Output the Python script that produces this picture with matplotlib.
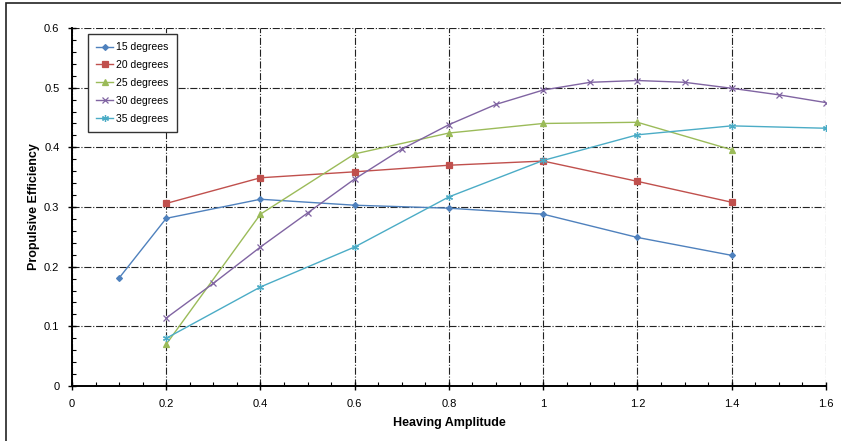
import matplotlib
matplotlib.use('Agg')
import matplotlib.pyplot as plt
from matplotlib.patches import Rectangle
from matplotlib.ticker import MultipleLocator

plt.rcParams['font.family'] = ['Liberation Sans', 'DejaVu Sans']

# propulsive efficiency vs heaving amplitude, one series per pitch angle
amp_15 = [0.1, 0.2, 0.4, 0.6, 0.8, 1.0, 1.2, 1.4]
eff_15 = [0.181, 0.281, 0.313, 0.303, 0.298, 0.288, 0.249, 0.219]

amp_20 = [0.2, 0.4, 0.6, 0.8, 1.0, 1.2, 1.4]
eff_20 = [0.306, 0.349, 0.359, 0.370, 0.377, 0.343, 0.308]

amp_25 = [0.2, 0.4, 0.6, 0.8, 1.0, 1.2, 1.4]
eff_25 = [0.070, 0.288, 0.389, 0.424, 0.440, 0.442, 0.396]

amp_30 = [0.2, 0.3, 0.4, 0.5, 0.6, 0.7, 0.8, 0.9, 1.0, 1.1, 1.2, 1.3, 1.4, 1.5, 1.6]
eff_30 = [0.114, 0.172, 0.233, 0.290, 0.347, 0.397, 0.438, 0.472, 0.496,
          0.509, 0.512, 0.509, 0.499, 0.488, 0.475]

amp_35 = [0.2, 0.4, 0.6, 0.8, 1.0, 1.2, 1.4, 1.6]
eff_35 = [0.080, 0.166, 0.233, 0.317, 0.378, 0.421, 0.436, 0.432]

labels = ['15 degrees', '20 degrees', '25 degrees', '30 degrees', '35 degrees']
colors = ['#4F81BD', '#C0504D', '#9BBB59', '#8064A2', '#4BACC6']
markers = ['D', 's', '^', 'x', (6, 2, 0)]
msizes = [3, 4.5, 4.5, 4, 5]

fig = plt.figure(figsize=(8.41, 4.41), dpi=100)
# outer chart frame
fig.patches.append(Rectangle((0.007, -0.1), 1.1, 1.093, transform=fig.transFigure,
                             fill=False, edgecolor='#222222', linewidth=1.2))
ax = fig.add_axes([0.0856, 0.1247, 0.8964, 0.8118])

series = [(amp_15, eff_15), (amp_20, eff_20), (amp_25, eff_25),
          (amp_30, eff_30), (amp_35, eff_35)]
for (xs, ys), lab, c, m, ms in zip(series, labels, colors, markers, msizes):
    ax.plot(xs, ys, color=c, marker=m, markersize=ms, linewidth=1.0,
            markeredgewidth=0.9, label=lab, zorder=3)

ax.set_xlim(0, 1.6)
ax.set_ylim(0, 0.6)
ax.xaxis.set_minor_locator(MultipleLocator(0.05))
ax.yaxis.set_minor_locator(MultipleLocator(0.02))
ax.set_xticks([0, 0.2, 0.4, 0.6, 0.8, 1.0, 1.2, 1.4, 1.6])
ax.set_yticks([0, 0.1, 0.2, 0.3, 0.4, 0.5, 0.6])
ax.set_xticklabels(['0', '0.2', '0.4', '0.6', '0.8', '1', '1.2', '1.4', '1.6'])
ax.set_yticklabels(['0', '0.1', '0.2', '0.3', '0.4', '0.5', '0.6'])

ax.tick_params(which='major', direction='inout', length=6, width=1, labelsize=8, pad=6)
ax.tick_params(which='minor', direction='in', length=3, width=0.8)
ax.grid(True, which='major', color='#222222', linestyle='-.', linewidth=0.8)
ax.set_axisbelow(True)

for side in ('top', 'right'):
    ax.spines[side].set_visible(False)
for side in ('left', 'bottom'):
    ax.spines[side].set_linewidth(1.4)

ax.set_xlabel('Heaving Amplitude', fontsize=9, fontweight='bold', labelpad=6)
ax.set_ylabel('Propulsive Efficiency', fontsize=9, fontweight='bold', labelpad=3)

leg = ax.legend(loc='upper left', bbox_to_anchor=(0.0145, 0.998), fontsize=7.5,
                fancybox=False, framealpha=1, edgecolor='#333333',
                handlelength=1.6, labelspacing=0.75, borderpad=0.8,
                handletextpad=0.3)
leg.get_frame().set_linewidth(1.0)

fig.savefig('out.png', dpi=100)
